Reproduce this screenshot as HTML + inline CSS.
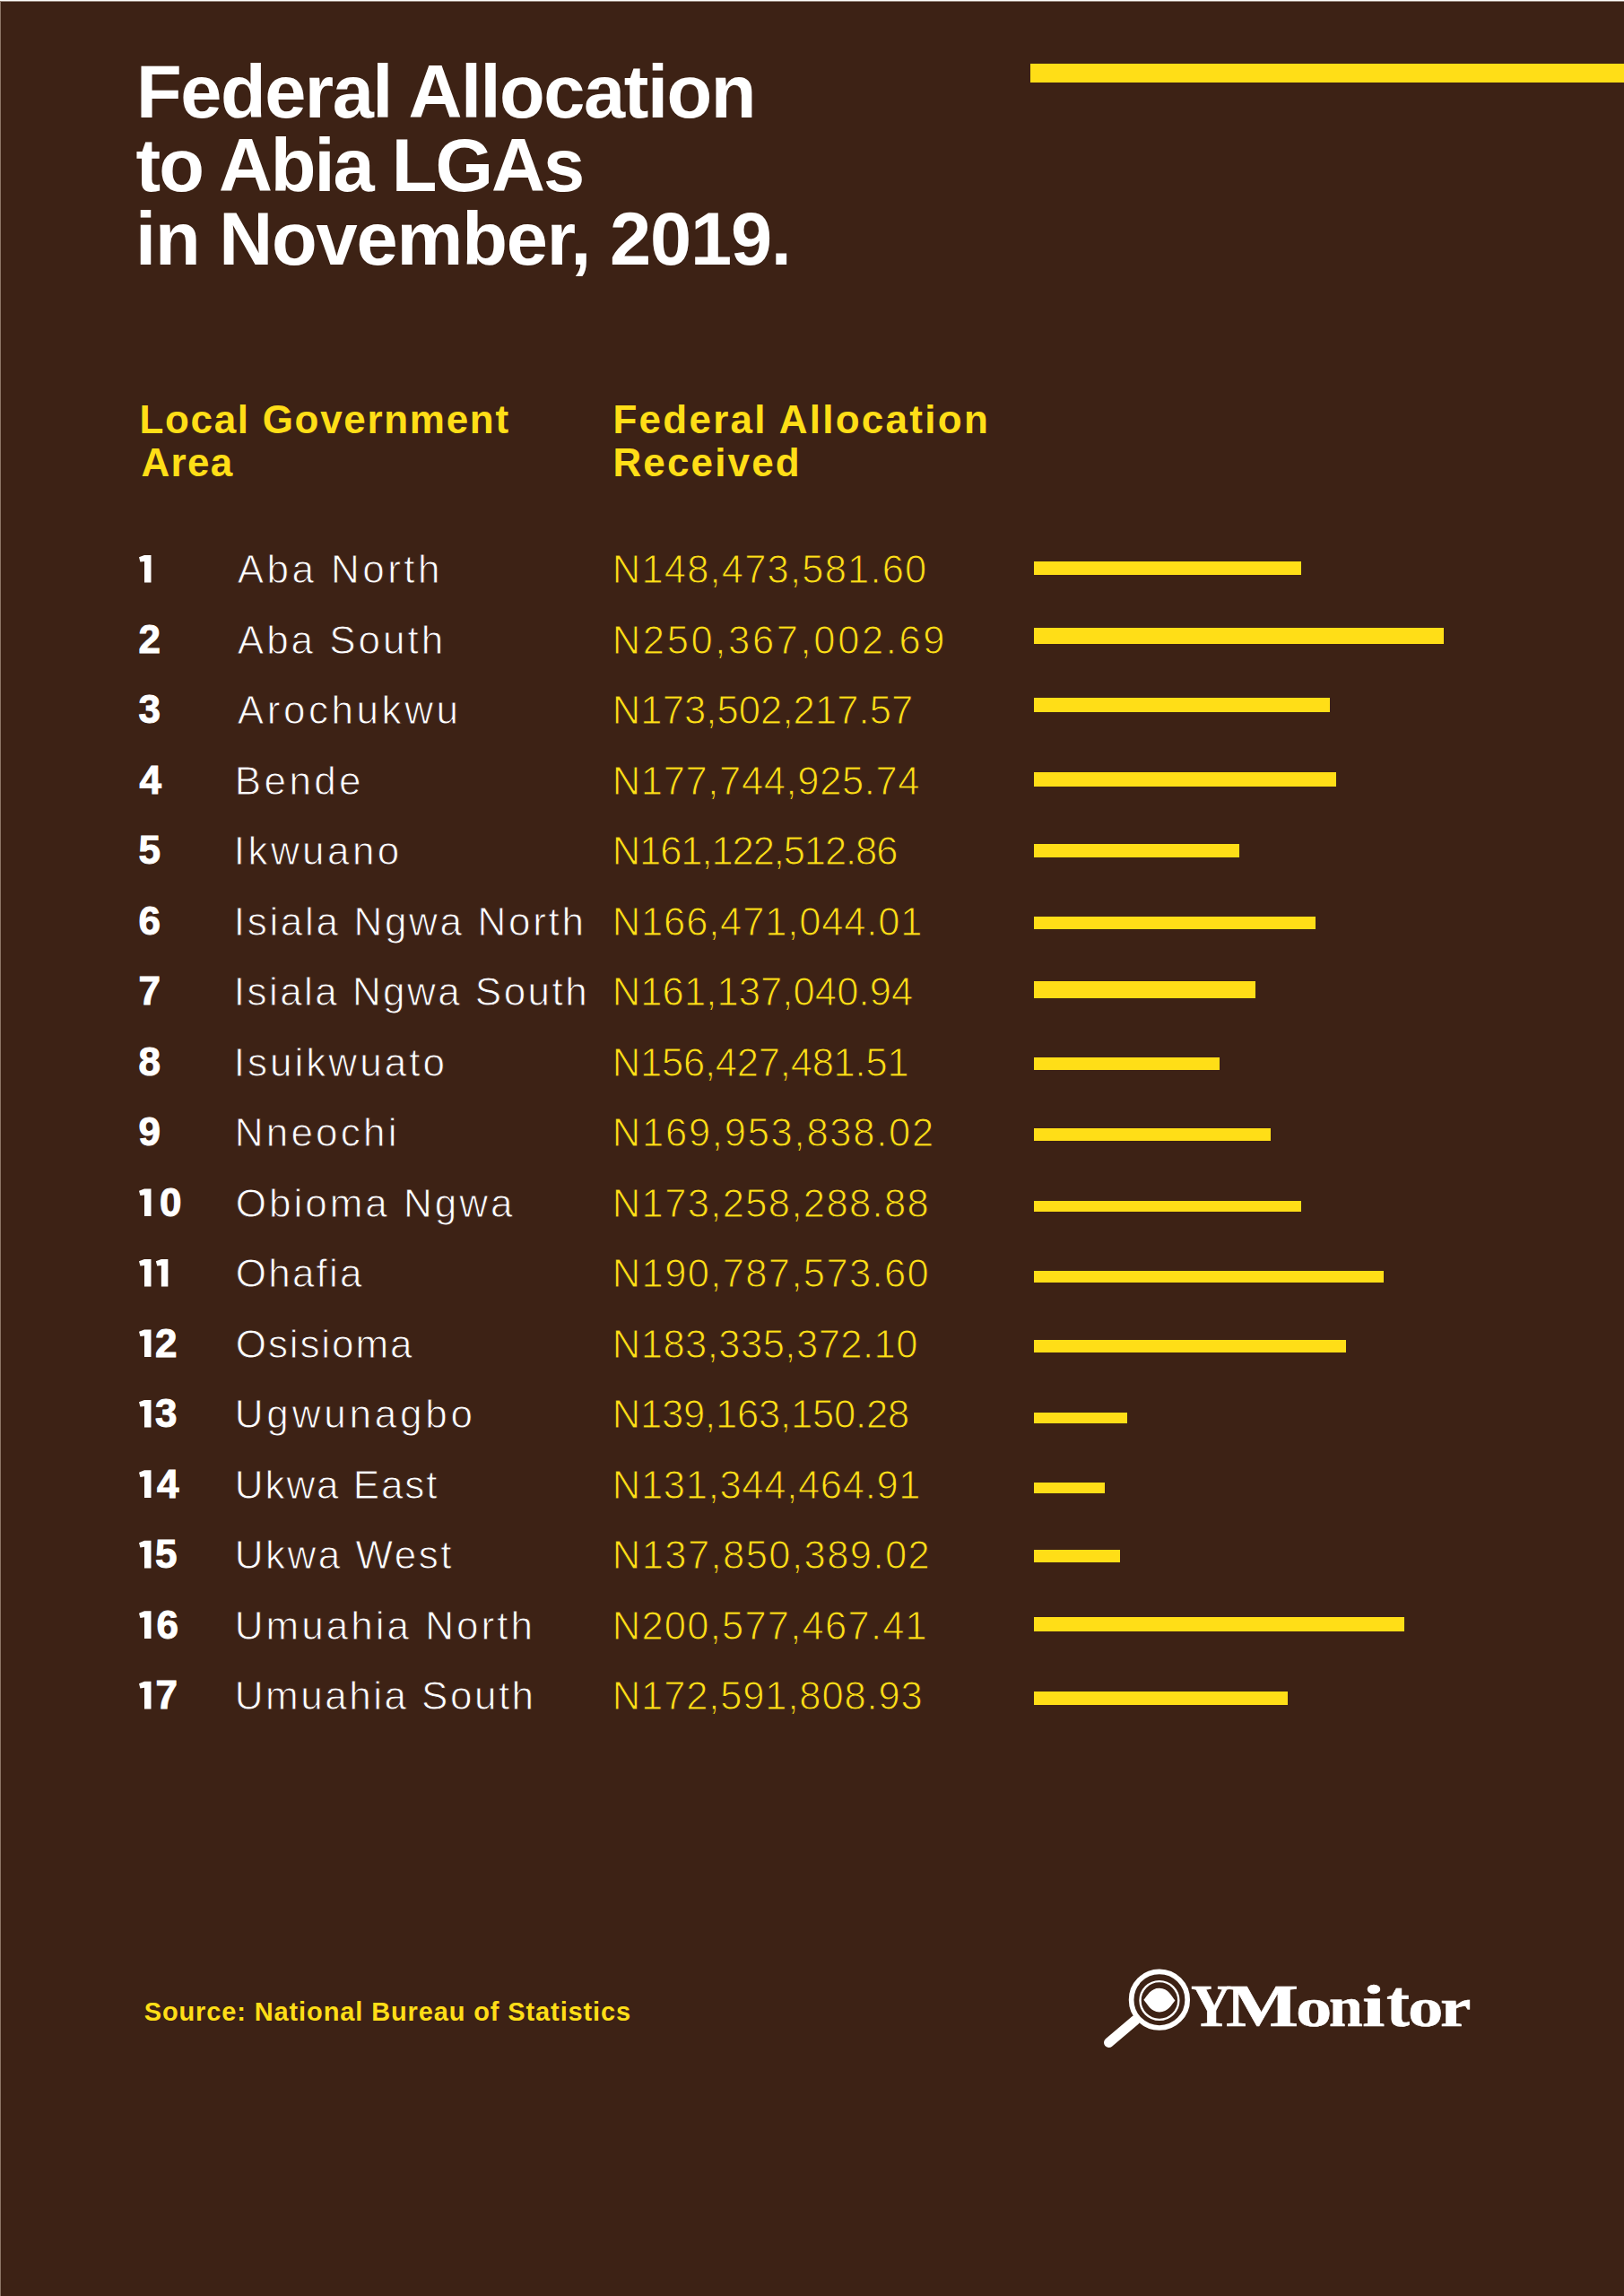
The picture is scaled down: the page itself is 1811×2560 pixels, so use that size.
<!DOCTYPE html>
<html><head><meta charset="utf-8"><style>
html,body{margin:0;padding:0}
body{width:1811px;height:2560px;position:relative;overflow:hidden;background:#3d2215}
.t{position:absolute;white-space:pre;line-height:1}
.b{position:absolute;background:#ffde17}
.edge-top{position:absolute;left:0;top:0;width:1811px;height:1px;background:#fefefc}
.edge-top2{position:absolute;left:0;top:1px;width:1811px;height:1px;background:#9a8a80}
.edge-left{position:absolute;left:0;top:0;width:1px;height:2560px;background:#8c7566}
</style></head><body>
<div class=b style="left:1149px;top:71px;width:662px;height:21px"></div>
<div class=t style="left:152.0px;top:61.1px;font-family:'Liberation Sans';font-weight:700;font-size:83px;letter-spacing:-1.47px;color:#ffffff;">Federal Allocation</div>
<div class=t style="left:151.6px;top:142.5px;font-family:'Liberation Sans';font-weight:700;font-size:83px;letter-spacing:-2.01px;color:#ffffff;">to Abia LGAs</div>
<div class=t style="left:151.0px;top:225.1px;font-family:'Liberation Sans';font-weight:700;font-size:83px;letter-spacing:-1.18px;color:#ffffff;">in November, 2019.</div>
<div class=t style="left:155.4px;top:445.7px;font-family:'Liberation Sans';font-weight:700;font-size:44px;letter-spacing:1.69px;color:#ffde17;">Local Government</div>
<div class=t style="left:157.4px;top:494.1px;font-family:'Liberation Sans';font-weight:700;font-size:44px;letter-spacing:1.33px;color:#ffde17;">Area</div>
<div class=t style="left:683.4px;top:445.7px;font-family:'Liberation Sans';font-weight:700;font-size:44px;letter-spacing:2.27px;color:#ffde17;">Federal Allocation</div>
<div class=t style="left:683.4px;top:494.1px;font-family:'Liberation Sans';font-weight:700;font-size:44px;letter-spacing:2.16px;color:#ffde17;">Received</div>
<div class=t style="left:264.8px;top:613.1px;font-family:'Liberation Sans';font-weight:400;font-size:44px;letter-spacing:3.44px;color:#ffffff;-webkit-text-stroke:0.9px #3d2215">Aba North</div>
<div class=t style="left:682.8px;top:614.3px;font-family:'Liberation Sans';font-weight:400;font-size:43.5px;letter-spacing:1.19px;color:#ffde17;-webkit-text-stroke:1px #3d2215">N148,473,581.60</div>
<div class=t style="left:154.5px;top:690.8px;font-family:'Liberation Sans';font-weight:700;font-size:44px;letter-spacing:0.00px;color:#ffffff;-webkit-text-stroke:1px #fff">2</div>
<div class=t style="left:264.8px;top:691.6px;font-family:'Liberation Sans';font-weight:400;font-size:44px;letter-spacing:2.99px;color:#ffffff;-webkit-text-stroke:0.9px #3d2215">Aba South</div>
<div class=t style="left:682.8px;top:692.8px;font-family:'Liberation Sans';font-weight:400;font-size:43.5px;letter-spacing:2.64px;color:#ffde17;-webkit-text-stroke:1px #3d2215">N250,367,002.69</div>
<div class=t style="left:154.5px;top:769.3px;font-family:'Liberation Sans';font-weight:700;font-size:44px;letter-spacing:0.00px;color:#ffffff;-webkit-text-stroke:1px #fff">3</div>
<div class=t style="left:264.8px;top:770.1px;font-family:'Liberation Sans';font-weight:400;font-size:44px;letter-spacing:3.56px;color:#ffffff;-webkit-text-stroke:0.9px #3d2215">Arochukwu</div>
<div class=t style="left:682.8px;top:771.2px;font-family:'Liberation Sans';font-weight:400;font-size:43.5px;letter-spacing:0.12px;color:#ffde17;-webkit-text-stroke:1px #3d2215">N173,502,217.57</div>
<div class=t style="left:155.5px;top:847.8px;font-family:'Liberation Sans';font-weight:700;font-size:44px;letter-spacing:0.00px;color:#ffffff;-webkit-text-stroke:1px #fff">4</div>
<div class=t style="left:261.8px;top:848.6px;font-family:'Liberation Sans';font-weight:400;font-size:44px;letter-spacing:3.38px;color:#ffffff;-webkit-text-stroke:0.9px #3d2215">Bende</div>
<div class=t style="left:682.8px;top:849.7px;font-family:'Liberation Sans';font-weight:400;font-size:43.5px;letter-spacing:0.64px;color:#ffde17;-webkit-text-stroke:1px #3d2215">N177,744,925.74</div>
<div class=t style="left:154.5px;top:926.3px;font-family:'Liberation Sans';font-weight:700;font-size:44px;letter-spacing:0.00px;color:#ffffff;-webkit-text-stroke:1px #fff">5</div>
<div class=t style="left:260.8px;top:927.1px;font-family:'Liberation Sans';font-weight:400;font-size:44px;letter-spacing:3.43px;color:#ffffff;-webkit-text-stroke:0.9px #3d2215">Ikwuano</div>
<div class=t style="left:682.8px;top:928.2px;font-family:'Liberation Sans';font-weight:400;font-size:43.5px;letter-spacing:-1.09px;color:#ffde17;-webkit-text-stroke:1px #3d2215">N161,122,512.86</div>
<div class=t style="left:154.5px;top:1004.8px;font-family:'Liberation Sans';font-weight:700;font-size:44px;letter-spacing:0.00px;color:#ffffff;-webkit-text-stroke:1px #fff">6</div>
<div class=t style="left:260.8px;top:1005.6px;font-family:'Liberation Sans';font-weight:400;font-size:44px;letter-spacing:2.68px;color:#ffffff;-webkit-text-stroke:0.9px #3d2215">Isiala Ngwa North</div>
<div class=t style="left:682.8px;top:1006.7px;font-family:'Liberation Sans';font-weight:400;font-size:43.5px;letter-spacing:0.85px;color:#ffde17;-webkit-text-stroke:1px #3d2215">N166,471,044.01</div>
<div class=t style="left:154.5px;top:1083.3px;font-family:'Liberation Sans';font-weight:700;font-size:44px;letter-spacing:0.00px;color:#ffffff;-webkit-text-stroke:1px #fff">7</div>
<div class=t style="left:260.8px;top:1084.1px;font-family:'Liberation Sans';font-weight:400;font-size:44px;letter-spacing:2.45px;color:#ffffff;-webkit-text-stroke:0.9px #3d2215">Isiala Ngwa South</div>
<div class=t style="left:682.8px;top:1085.2px;font-family:'Liberation Sans';font-weight:400;font-size:43.5px;letter-spacing:0.11px;color:#ffde17;-webkit-text-stroke:1px #3d2215">N161,137,040.94</div>
<div class=t style="left:154.5px;top:1161.8px;font-family:'Liberation Sans';font-weight:700;font-size:44px;letter-spacing:0.00px;color:#ffffff;-webkit-text-stroke:1px #fff">8</div>
<div class=t style="left:260.8px;top:1162.6px;font-family:'Liberation Sans';font-weight:400;font-size:44px;letter-spacing:3.02px;color:#ffffff;-webkit-text-stroke:0.9px #3d2215">Isuikwuato</div>
<div class=t style="left:682.8px;top:1163.7px;font-family:'Liberation Sans';font-weight:400;font-size:43.5px;letter-spacing:-0.21px;color:#ffde17;-webkit-text-stroke:1px #3d2215">N156,427,481.51</div>
<div class=t style="left:154.5px;top:1240.3px;font-family:'Liberation Sans';font-weight:700;font-size:44px;letter-spacing:0.00px;color:#ffffff;-webkit-text-stroke:1px #fff">9</div>
<div class=t style="left:261.8px;top:1241.1px;font-family:'Liberation Sans';font-weight:400;font-size:44px;letter-spacing:3.20px;color:#ffffff;-webkit-text-stroke:0.9px #3d2215">Nneochi</div>
<div class=t style="left:682.8px;top:1242.2px;font-family:'Liberation Sans';font-weight:400;font-size:43.5px;letter-spacing:1.76px;color:#ffde17;-webkit-text-stroke:1px #3d2215">N169,953,838.02</div>
<div class=t style="left:178.0px;top:1318.8px;font-family:'Liberation Sans';font-weight:700;font-size:44px;letter-spacing:0.00px;color:#ffffff;-webkit-text-stroke:1px #fff">0</div>
<div class=t style="left:262.8px;top:1319.6px;font-family:'Liberation Sans';font-weight:400;font-size:44px;letter-spacing:2.99px;color:#ffffff;-webkit-text-stroke:0.9px #3d2215">Obioma Ngwa</div>
<div class=t style="left:682.8px;top:1320.7px;font-family:'Liberation Sans';font-weight:400;font-size:43.5px;letter-spacing:1.37px;color:#ffde17;-webkit-text-stroke:1px #3d2215">N173,258,288.88</div>
<div class=t style="left:262.8px;top:1398.0px;font-family:'Liberation Sans';font-weight:400;font-size:44px;letter-spacing:2.20px;color:#ffffff;-webkit-text-stroke:0.9px #3d2215">Ohafia</div>
<div class=t style="left:682.8px;top:1399.2px;font-family:'Liberation Sans';font-weight:400;font-size:43.5px;letter-spacing:1.37px;color:#ffde17;-webkit-text-stroke:1px #3d2215">N190,787,573.60</div>
<div class=t style="left:173.0px;top:1475.7px;font-family:'Liberation Sans';font-weight:700;font-size:44px;letter-spacing:0.00px;color:#ffffff;-webkit-text-stroke:1px #fff">2</div>
<div class=t style="left:262.8px;top:1476.5px;font-family:'Liberation Sans';font-weight:400;font-size:44px;letter-spacing:1.89px;color:#ffffff;-webkit-text-stroke:0.9px #3d2215">Osisioma</div>
<div class=t style="left:682.8px;top:1477.7px;font-family:'Liberation Sans';font-weight:400;font-size:43.5px;letter-spacing:0.49px;color:#ffde17;-webkit-text-stroke:1px #3d2215">N183,335,372.10</div>
<div class=t style="left:173.0px;top:1554.2px;font-family:'Liberation Sans';font-weight:700;font-size:44px;letter-spacing:0.00px;color:#ffffff;-webkit-text-stroke:1px #fff">3</div>
<div class=t style="left:261.8px;top:1555.0px;font-family:'Liberation Sans';font-weight:400;font-size:44px;letter-spacing:3.80px;color:#ffffff;-webkit-text-stroke:0.9px #3d2215">Ugwunagbo</div>
<div class=t style="left:682.8px;top:1556.1px;font-family:'Liberation Sans';font-weight:400;font-size:43.5px;letter-spacing:-0.17px;color:#ffde17;-webkit-text-stroke:1px #3d2215">N139,163,150.28</div>
<div class=t style="left:175.0px;top:1632.7px;font-family:'Liberation Sans';font-weight:700;font-size:44px;letter-spacing:0.00px;color:#ffffff;-webkit-text-stroke:1px #fff">4</div>
<div class=t style="left:261.8px;top:1633.5px;font-family:'Liberation Sans';font-weight:400;font-size:44px;letter-spacing:1.92px;color:#ffffff;-webkit-text-stroke:0.9px #3d2215">Ukwa East</div>
<div class=t style="left:682.8px;top:1634.6px;font-family:'Liberation Sans';font-weight:400;font-size:43.5px;letter-spacing:0.71px;color:#ffde17;-webkit-text-stroke:1px #3d2215">N131,344,464.91</div>
<div class=t style="left:173.0px;top:1711.2px;font-family:'Liberation Sans';font-weight:700;font-size:44px;letter-spacing:0.00px;color:#ffffff;-webkit-text-stroke:1px #fff">5</div>
<div class=t style="left:261.8px;top:1712.0px;font-family:'Liberation Sans';font-weight:400;font-size:44px;letter-spacing:2.50px;color:#ffffff;-webkit-text-stroke:0.9px #3d2215">Ukwa West</div>
<div class=t style="left:682.8px;top:1713.1px;font-family:'Liberation Sans';font-weight:400;font-size:43.5px;letter-spacing:1.44px;color:#ffde17;-webkit-text-stroke:1px #3d2215">N137,850,389.02</div>
<div class=t style="left:174.6px;top:1789.7px;font-family:'Liberation Sans';font-weight:700;font-size:44px;letter-spacing:0.00px;color:#ffffff;-webkit-text-stroke:1px #fff">6</div>
<div class=t style="left:261.8px;top:1790.5px;font-family:'Liberation Sans';font-weight:400;font-size:44px;letter-spacing:3.02px;color:#ffffff;-webkit-text-stroke:0.9px #3d2215">Umuahia North</div>
<div class=t style="left:682.8px;top:1791.6px;font-family:'Liberation Sans';font-weight:400;font-size:43.5px;letter-spacing:1.23px;color:#ffde17;-webkit-text-stroke:1px #3d2215">N200,577,467.41</div>
<div class=t style="left:173.4px;top:1868.2px;font-family:'Liberation Sans';font-weight:700;font-size:44px;letter-spacing:0.00px;color:#ffffff;-webkit-text-stroke:1px #fff">7</div>
<div class=t style="left:261.8px;top:1869.0px;font-family:'Liberation Sans';font-weight:400;font-size:44px;letter-spacing:2.50px;color:#ffffff;-webkit-text-stroke:0.9px #3d2215">Umuahia South</div>
<div class=t style="left:682.8px;top:1870.1px;font-family:'Liberation Sans';font-weight:400;font-size:43.5px;letter-spacing:0.87px;color:#ffde17;-webkit-text-stroke:1px #3d2215">N172,591,808.93</div>
<div class=t style="left:160.7px;top:2228.9px;font-family:'Liberation Sans';font-weight:700;font-size:29px;letter-spacing:0.88px;color:#ffde17;">Source: National Bureau of Statistics</div>
<div class=b style="left:1153px;top:625.9px;width:298.0px;height:14.7px"></div>
<div class=b style="left:1153px;top:700.0px;width:456.5px;height:17.6px"></div>
<div class=b style="left:1153px;top:778.0px;width:329.7px;height:16.0px"></div>
<div class=b style="left:1153px;top:861.0px;width:337.0px;height:16.0px"></div>
<div class=b style="left:1153px;top:940.9px;width:228.7px;height:14.8px"></div>
<div class=b style="left:1153px;top:1021.6px;width:314.0px;height:14.8px"></div>
<div class=b style="left:1153px;top:1094.3px;width:247.2px;height:18.4px"></div>
<div class=b style="left:1153px;top:1179.2px;width:207.1px;height:14.2px"></div>
<div class=b style="left:1153px;top:1257.9px;width:264.1px;height:14.1px"></div>
<div class=b style="left:1153px;top:1338.5px;width:298.0px;height:12.3px"></div>
<div class=b style="left:1153px;top:1417.3px;width:389.7px;height:12.4px"></div>
<div class=b style="left:1153px;top:1494.3px;width:348.1px;height:14.2px"></div>
<div class=b style="left:1153px;top:1574.8px;width:104.0px;height:12.0px"></div>
<div class=b style="left:1153px;top:1653.0px;width:78.7px;height:11.7px"></div>
<div class=b style="left:1153px;top:1727.5px;width:96.3px;height:14.1px"></div>
<div class=b style="left:1153px;top:1803.2px;width:413.4px;height:16.0px"></div>
<div class=b style="left:1153px;top:1886.4px;width:283.2px;height:14.4px"></div>
<svg style='position:absolute;left:0;top:0' width='1811' height='2560'><g fill='#fff'><polygon points='161.00,619.00 168.50,619.00 168.50,649.60 161.00,649.60 161.00,626.00 156.40,626.60 155.00,621.30'/><polygon points='161.00,1325.41 168.50,1325.41 168.50,1356.01 161.00,1356.01 161.00,1332.41 156.40,1333.01 155.00,1327.71'/><polygon points='161.00,1403.90 168.50,1403.90 168.50,1434.50 161.00,1434.50 161.00,1410.90 156.40,1411.50 155.00,1406.20'/><polygon points='179.85,1403.90 187.35,1403.90 187.35,1434.50 179.85,1434.50 179.85,1410.90 175.25,1411.50 173.85,1406.20'/><polygon points='161.00,1482.39 168.50,1482.39 168.50,1512.99 161.00,1512.99 161.00,1489.39 156.40,1489.99 155.00,1484.69'/><polygon points='161.00,1560.88 168.50,1560.88 168.50,1591.48 161.00,1591.48 161.00,1567.88 156.40,1568.48 155.00,1563.18'/><polygon points='161.00,1639.37 168.50,1639.37 168.50,1669.97 161.00,1669.97 161.00,1646.37 156.40,1646.97 155.00,1641.67'/><polygon points='161.00,1717.86 168.50,1717.86 168.50,1748.46 161.00,1748.46 161.00,1724.86 156.40,1725.46 155.00,1720.16'/><polygon points='161.00,1796.35 168.50,1796.35 168.50,1826.95 161.00,1826.95 161.00,1803.35 156.40,1803.95 155.00,1798.65'/><polygon points='161.00,1874.84 168.50,1874.84 168.50,1905.44 161.00,1905.44 161.00,1881.84 156.40,1882.44 155.00,1877.14'/></g></svg><svg style="position:absolute;left:0;top:0" width="1811" height="2560" viewBox="0 0 1811 2560">
<g fill="none" stroke="#fff">
<circle cx="1292.9" cy="2229.7" r="31.3" stroke-width="5.7"/>
<circle cx="1292.9" cy="2230.5" r="21.4" stroke-width="2.4"/>
<line x1="1236.5" y1="2277.5" x2="1266" y2="2252.5" stroke-width="11" stroke-linecap="round"/>
</g>
<path fill="#fff" d="M1275.4,2229.8 C1279.5,2225.3 1283,2216.8 1292.9,2216.8 C1302.8,2216.8 1306.3,2225.8 1310.4,2230.6 C1306.3,2235.4 1302.8,2243.4 1292.9,2243.4 C1283,2243.4 1279.5,2234.3 1275.4,2229.8 Z"/>
</svg>
<div class=t style="left:1328.1px;top:2202.4px;font-family:'Liberation Serif';font-weight:700;font-size:68.5px;color:#fff;-webkit-text-stroke:0.6px #fff;transform-origin:0 57.37px;transform:scale(0.917,1.0)">Y</div><div class=t style="left:1366.7px;top:2202.4px;font-family:'Liberation Serif';font-weight:700;font-size:68.5px;color:#fff;-webkit-text-stroke:0.6px #fff;transform-origin:0 57.37px;transform:scale(1.252,1.0)">M</div><div class=t style="left:1444.8px;top:2202.4px;font-family:'Liberation Serif';font-weight:700;font-size:68.5px;color:#fff;-webkit-text-stroke:0.6px #fff;transform-origin:0 57.37px;transform:scale(1.177,0.893)">o</div><div class=t style="left:1482.3px;top:2202.4px;font-family:'Liberation Serif';font-weight:700;font-size:68.5px;color:#fff;-webkit-text-stroke:0.6px #fff;transform-origin:0 57.37px;transform:scale(0.992,0.91)">n</div><div class=t style="left:1519.3px;top:2202.4px;font-family:'Liberation Serif';font-weight:700;font-size:68.5px;color:#fff;-webkit-text-stroke:0.6px #fff;transform-origin:0 57.37px;transform:scale(1.333,0.965)">i</div><div class=t style="left:1545.8px;top:2202.4px;font-family:'Liberation Serif';font-weight:700;font-size:68.5px;color:#fff;-webkit-text-stroke:0.6px #fff;transform-origin:0 57.37px;transform:scale(1.130,1.077)">t</div><div class=t style="left:1569.9px;top:2202.4px;font-family:'Liberation Serif';font-weight:700;font-size:68.5px;color:#fff;-webkit-text-stroke:0.6px #fff;transform-origin:0 57.37px;transform:scale(1.150,0.893)">o</div><div class=t style="left:1605.9px;top:2202.4px;font-family:'Liberation Serif';font-weight:700;font-size:68.5px;color:#fff;-webkit-text-stroke:0.6px #fff;transform-origin:0 57.37px;transform:scale(1.134,0.905)">r</div>
<div class=edge-top2></div><div class=edge-left></div><div class=edge-top></div>
</body></html>
